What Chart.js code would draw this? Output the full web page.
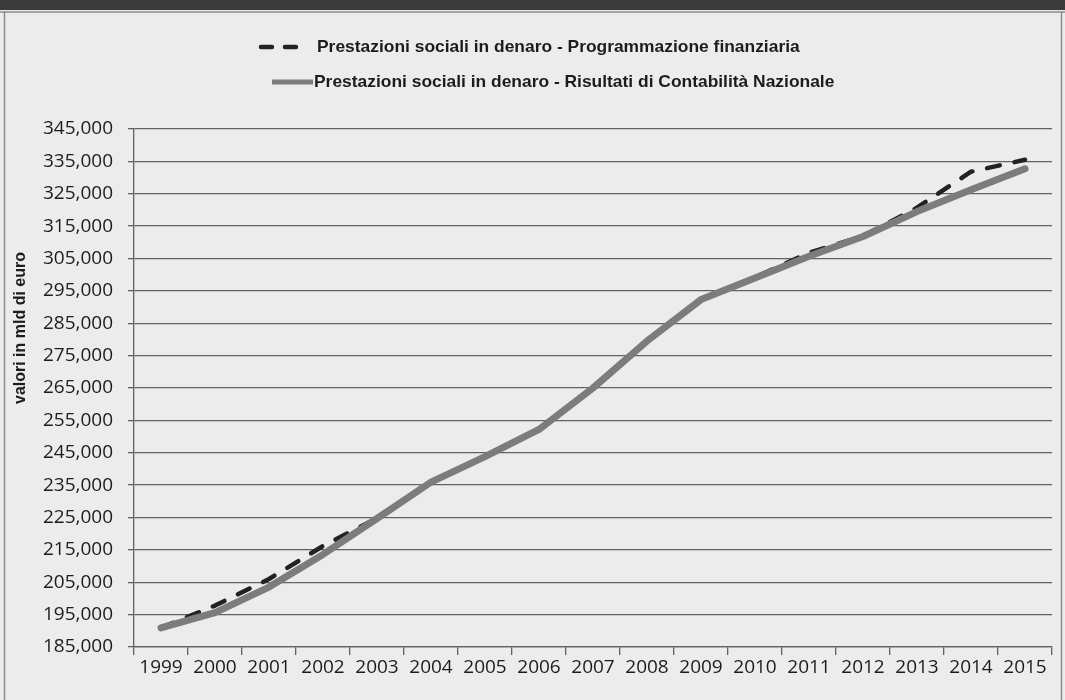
<!DOCTYPE html>
<html>
<head>
<meta charset="utf-8">
<script src="https://cdn.jsdelivr.net/npm/chart.js@4.4.1/dist/chart.umd.min.js"></script>
<style>
  html, body { margin: 0; padding: 0; background: #ececec; }
  #wrap { width: 1065px; height: 700px; position: relative; }
  canvas { display: block; }
</style>
</head>
<body>
<div id="wrap"><canvas id="c" width="1065" height="700"></canvas></div>
<script>
// ---- data ----
const years = ['1999','2000','2001','2002','2003','2004','2005','2006','2007','2008','2009','2010','2011','2012','2013','2014','2015'];
const programmazione = [190900, 197800, 206000, 216200, 224800, 236000, 243900, 252400, 265200, 279700, 292300, 299200, 306800, 311900, 320700, 331800, 335500];
const contabilita    = [190900, 195600, 203500, 213600, 224700, 235900, 243800, 252200, 265000, 279500, 292300, 299000, 305700, 311800, 319500, 326200, 332700];
const seriesLabels = [
  'Prestazioni sociali in denaro - Programmazione finanziaria',
  'Prestazioni sociali in denaro - Risultati di Contabilità Nazionale'
];
const yAxisTitle = 'valori in mld di euro';
const yMin = 185000, yMax = 345000, yStep = 10000;

function fmt(v) { return String(v).replace(/\B(?=(\d{3})+(?!\d))/g, ','); }

const TEXT = '#1c1c1c';
const GRID = '#626262';
const FONT = '"Liberation Sans", Arial, sans-serif';
const TICKFONT = '"Open Sans", "Liberation Sans", sans-serif';

const framePlugin = {
  id: 'frame',
  beforeDraw(chart) {
    const ctx = chart.ctx, W = chart.width, H = chart.height;
    ctx.save();
    ctx.fillStyle = '#ececec';
    ctx.fillRect(0, 0, W, H);
    ctx.fillStyle = '#3a3a3a';
    ctx.fillRect(0, 0, W, 10);
    ctx.strokeStyle = '#8c8c8c';
    ctx.lineWidth = 1.5;
    ctx.beginPath();
    ctx.moveTo(0, 12); ctx.lineTo(W, 12);
    ctx.moveTo(4.5, 12); ctx.lineTo(4.5, H);
    ctx.moveTo(1061.5, 12); ctx.lineTo(1061.5, H);
    ctx.stroke();
    ctx.restore();
  },
  afterDraw(chart) {
    const ctx = chart.ctx;
    const ds = chart.data.datasets;
    ctx.save();
    // legend entry 1 (dashed)
    ctx.strokeStyle = ds[0].borderColor;
    ctx.lineWidth = 4.5;
    ctx.lineCap = 'round';
    ctx.setLineDash([11, 13]);
    ctx.beginPath(); ctx.moveTo(261, 47); ctx.lineTo(297, 47); ctx.stroke();
    ctx.setLineDash([]);
    // legend entry 2 (solid)
    ctx.strokeStyle = ds[1].borderColor;
    ctx.lineWidth = 5;
    ctx.lineCap = 'butt';
    ctx.beginPath(); ctx.moveTo(272, 82); ctx.lineTo(313, 82); ctx.stroke();

    ctx.fillStyle = TEXT;
    ctx.textBaseline = 'middle';
    ctx.textAlign = 'left';
    ctx.font = 'bold 15px ' + FONT;
    const w = ctx.measureText(seriesLabels[0]).width;
    const size = 15 * 483 / w;
    ctx.font = 'bold ' + size.toFixed(2) + 'px ' + FONT;
    ctx.fillText(ds[0].label, 317, 47);
    ctx.fillText(ds[1].label, 314, 82);

    // y axis title
    ctx.translate(21, 328);
    ctx.rotate(-Math.PI / 2);
    ctx.textAlign = 'center';
    ctx.font = 'bold 16px ' + FONT;
    ctx.fillText(yAxisTitle, 0, 0);
    ctx.restore();
  }
};

new Chart(document.getElementById('c'), {
  type: 'line',
  data: {
    labels: years,
    datasets: [
      {
        label: seriesLabels[0],
        data: programmazione,
        borderColor: '#222222',
        borderWidth: 4.5,
        borderDash: [13, 15],
        borderCapStyle: 'round',
        borderJoinStyle: 'round',
        pointRadius: 0,
        tension: 0,
        fill: false,
        order: 1
      },
      {
        label: seriesLabels[1],
        data: contabilita,
        borderColor: '#7c7c7c',
        borderWidth: 7,
        borderCapStyle: 'round',
        borderJoinStyle: 'round',
        pointRadius: 0,
        tension: 0,
        fill: false,
        order: 0
      }
    ]
  },
  options: {
    responsive: false,
    devicePixelRatio: 1,
    animation: false,
    layout: { padding: { top: 129, right: 13, left: 0, bottom: 0 } },
    plugins: { legend: { display: false }, tooltip: { enabled: false }, title: { display: false } },
    scales: {
      x: {
        type: 'category',
        offset: true,
        grid: { offset: true, drawOnChartArea: false, drawTicks: true, tickLength: 8, color: GRID, lineWidth: 1.3 },
        border: { color: GRID, width: 1.3 },
        ticks: { color: TEXT, font: { family: TICKFONT, size: 19 }, padding: 1, maxRotation: 0, autoSkip: false },
        afterFit(s) { s.height = 53; }
      },
      y: {
        min: yMin, max: yMax,
        ticks: { stepSize: yStep, callback: v => fmt(v), color: TEXT, font: { family: TICKFONT, size: 19 }, padding: 15 },
        grid: { color: GRID, lineWidth: 1.3, tickLength: 6, drawTicks: true },
        border: { color: GRID, width: 1.3 },
        afterFit(s) { s.width = 134; }
      }
    }
  },
  plugins: [framePlugin]
});
</script>
</body>
</html>
